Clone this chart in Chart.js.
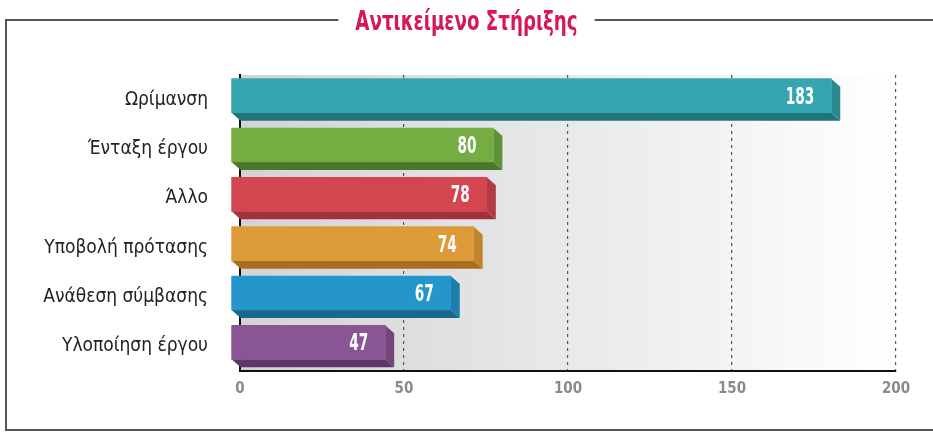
<!DOCTYPE html>
<html>
<head>
<meta charset="utf-8">
<script src="https://cdn.jsdelivr.net/npm/chart.js@4.4.1/dist/chart.umd.min.js"></script>
<style>
  html, body { margin: 0; padding: 0; background: #ffffff; overflow: hidden; }
  #wrap { position: relative; width: 933px; height: 432px; }
</style>
</head>
<body>
<div id="wrap"><canvas id="c"></canvas></div>
<script>
// ---- data ----
const titleText = 'Αντικείμενο Στήριξης';
const categories = ['Ωρίμανση', 'Ένταξη έργου', 'Άλλο', 'Υποβολή πρότασης', 'Ανάθεση σύμβασης', 'Υλοποίηση έργου'];
const values = [183, 80, 78, 74, 67, 47];
const xTicks = [0, 50, 100, 150, 200];

// ---- styles ----
const faceColors   = ['#35a6b0', '#75ad43', '#d3464f', '#dc9b38', '#2596c9', '#8a5594'];
const bottomColors = ['#21737b', '#4a772c', '#a1323a', '#a86f1f', '#16688f', '#5f3766'];
const sideColors   = ['#2a8890', '#5d9236', '#b33b43', '#c0852c', '#1c7eac', '#734579'];
const COND = "'Liberation Sans Narrow', 'DejaVu Sans Condensed', 'Roboto', sans-serif";
const OX = -9, OY = -4, DX = 9, DY = 8;

const framePlugin = {
  id: 'frame',
  beforeDraw(chart) {
    const ctx = chart.ctx, a = chart.chartArea;
    ctx.save();
    const sx = 0.78;
    ctx.font = "bold 26px " + COND;
    const tw = ctx.measureText(titleText).width * sx;
    const cx = chart.width / 2;
    const gap = tw / 2 + 17;
    ctx.strokeStyle = '#555555';
    ctx.lineWidth = 2;
    ctx.beginPath();
    ctx.moveTo(cx - gap, 20);
    ctx.lineTo(6, 20);
    ctx.lineTo(6, 430);
    ctx.lineTo(chart.width + 5, 430);
    ctx.moveTo(cx + gap, 20);
    ctx.lineTo(chart.width + 5, 20);
    ctx.stroke();
    ctx.fillStyle = '#d6175a';
    ctx.textAlign = 'center';
    ctx.textBaseline = 'alphabetic';
    ctx.save();
    ctx.translate(cx, 30);
    ctx.scale(sx, 1);
    ctx.fillText(titleText, 0, 0);
    ctx.restore();
    const g = ctx.createLinearGradient(a.left, 0, a.right, 0);
    g.addColorStop(0, '#d2d3d5');
    g.addColorStop(1, '#ffffff');
    ctx.fillStyle = g;
    ctx.fillRect(a.left, a.top, a.right - a.left, a.bottom - a.top);
    ctx.restore();
  },
  beforeDatasetsDraw(chart) {
    const ctx = chart.ctx;
    const meta = chart.getDatasetMeta(0);
    ctx.save();
    meta.data.forEach((el, i) => {
      const h = el.height;
      const L = el.base + OX, R = el.x + OX;
      const T = el.y - h / 2 + OY, B = el.y + h / 2 + OY;
      ctx.fillStyle = bottomColors[i];
      ctx.beginPath();
      ctx.moveTo(L, B); ctx.lineTo(R, B); ctx.lineTo(R + DX, B + DY); ctx.lineTo(L + DX, B + DY);
      ctx.closePath(); ctx.fill();
      ctx.fillStyle = sideColors[i];
      ctx.beginPath();
      ctx.moveTo(R, T); ctx.lineTo(R + DX, T + DY); ctx.lineTo(R + DX, B + DY); ctx.lineTo(R, B);
      ctx.closePath(); ctx.fill();
    });
    ctx.restore();
    ctx.save();
    ctx.translate(OX, OY);
  },
  afterDatasetsDraw(chart) {
    const ctx = chart.ctx;
    ctx.restore();
    const meta = chart.getDatasetMeta(0);
    ctx.save();
    ctx.font = "bold 23px " + COND;
    ctx.fillStyle = '#ffffff';
    ctx.textAlign = 'right';
    ctx.textBaseline = 'middle';
    meta.data.forEach((el, i) => {
      ctx.save();
      ctx.translate(el.x + OX - 17, el.y + OY + 2);
      ctx.scale(0.66, 1);
      ctx.fillText(String(values[i]), 0, 0);
      ctx.restore();
    });
    ctx.restore();
  }
};

new Chart(document.getElementById('c'), {
  type: 'bar',
  plugins: [framePlugin],
  data: {
    labels: categories,
    datasets: [{
      data: values,
      backgroundColor: faceColors,
      borderWidth: 0,
      barThickness: 34,
      clip: false
    }]
  },
  options: {
    indexAxis: 'y',
    responsive: true,
    maintainAspectRatio: false,
    animation: false,
    events: [],
    layout: { padding: { left: 0, right: 37, top: 75, bottom: 31 } },
    plugins: { legend: { display: false }, title: { display: false }, tooltip: { enabled: false } },
    scales: {
      x: {
        min: 0, max: 200,
        afterBuildTicks(scale) { scale.ticks = xTicks.map(v => ({ value: v })); },
        afterFit(scale) { scale.height = 30; },
        grid: { display: true, drawTicks: false, color: '#555555', lineWidth: 1.2 },
        border: { display: true, color: '#111111', width: 2, dash: [3, 4] },
        ticks: { padding: 9, color: '#8a8a8a', font: { family: COND, size: 15, weight: 'bold' } }
      },
      y: {
        afterFit(scale) { scale.width = 240; },
        grid: { display: false, drawTicks: false },
        border: { display: true, color: '#111111', width: 2 },
        ticks: { padding: 32, color: '#222222', font: { family: COND, size: 19 } }
      }
    }
  }
});
</script>
</body>
</html>
